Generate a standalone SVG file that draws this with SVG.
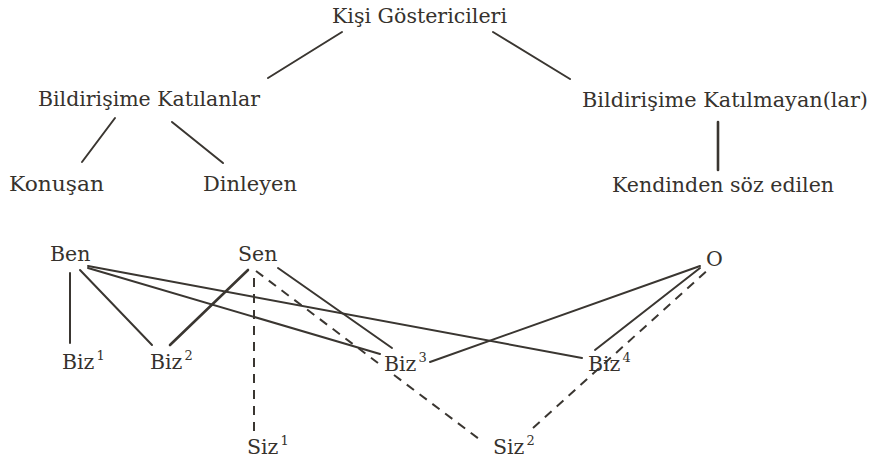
<svg xmlns="http://www.w3.org/2000/svg" width="881" height="463" viewBox="0 0 881 463">
<style>
text{font-family:"DejaVu Serif","Liberation Serif",serif;font-size:20.5px;fill:#36322d}
.sup{font-size:13px}
.c line{stroke:#3a3631;stroke-width:2;stroke-linecap:round;fill:none}
.c .d{stroke-dasharray:9 7;stroke-linecap:butt}
</style>
<rect width="881" height="463" fill="#fff"/>
<g class="c" id="connectors">
<line x1="342" y1="32" x2="268" y2="78"/>
<line x1="493" y1="32" x2="570" y2="79"/>
<line x1="115" y1="118" x2="82" y2="162"/>
<line x1="172" y1="122" x2="223" y2="163"/>
<line x1="718" y1="122" x2="718" y2="170" style="stroke-width:2.6"/>
<line x1="70" y1="273" x2="70" y2="343"/>
<line x1="80" y1="270" x2="152" y2="345"/>
<line x1="88" y1="268" x2="380" y2="354"/>
<line x1="88" y1="266" x2="582" y2="358"/>
<line x1="248" y1="270" x2="170" y2="345" style="stroke-width:2.6"/>
<line x1="278" y1="268" x2="392" y2="348"/>
<line x1="430" y1="362" x2="700" y2="266"/>
<line x1="595" y1="350" x2="700" y2="268"/>
<line class="d" x1="254" y1="278" x2="254" y2="438"/>
<line class="d" x1="256" y1="271" x2="378" y2="363"/>
<line class="d" x1="394" y1="375" x2="483" y2="442"/>
<line class="d" x1="533" y1="428" x2="710" y2="268"/>
</g>
<g id="kisi"><text x="332" y="23" textLength="175" lengthAdjust="spacingAndGlyphs">Kişi Göstericileri</text></g>
<g id="katilanlar"><text x="38" y="106" textLength="222" lengthAdjust="spacingAndGlyphs">Bildirişime Katılanlar</text></g>
<g id="katilmayanlar"><text x="582" y="107" textLength="286" lengthAdjust="spacingAndGlyphs">Bildirişime Katılmayan(lar)</text></g>
<g id="konusan"><text x="9" y="191" textLength="95" lengthAdjust="spacingAndGlyphs">Konuşan</text></g>
<g id="dinleyen"><text x="203" y="191" textLength="94" lengthAdjust="spacingAndGlyphs">Dinleyen</text></g>
<g id="kendinden"><text x="612" y="192" textLength="222" lengthAdjust="spacingAndGlyphs">Kendinden söz edilen</text></g>
<g id="ben"><text x="50" y="261">Ben</text></g>
<g id="sen"><text x="238" y="261">Sen</text></g>
<g id="o"><text x="706" y="266">O</text></g>
<g id="biz1"><text x="62" y="369">Biz<tspan class="sup" dx="2" dy="-9">1</tspan></text></g>
<g id="biz2"><text x="150" y="369">Biz<tspan class="sup" dx="2" dy="-9">2</tspan></text></g>
<g id="biz3"><text x="384" y="371">Biz<tspan class="sup" dx="2" dy="-9">3</tspan></text></g>
<g id="biz4"><text x="588" y="371">Biz<tspan class="sup" dx="2" dy="-9">4</tspan></text></g>
<g id="siz1"><text x="247" y="454">Siz<tspan class="sup" dx="2" dy="-9">1</tspan></text></g>
<g id="siz2"><text x="493" y="454">Siz<tspan class="sup" dx="2" dy="-9">2</tspan></text></g>
</svg>
